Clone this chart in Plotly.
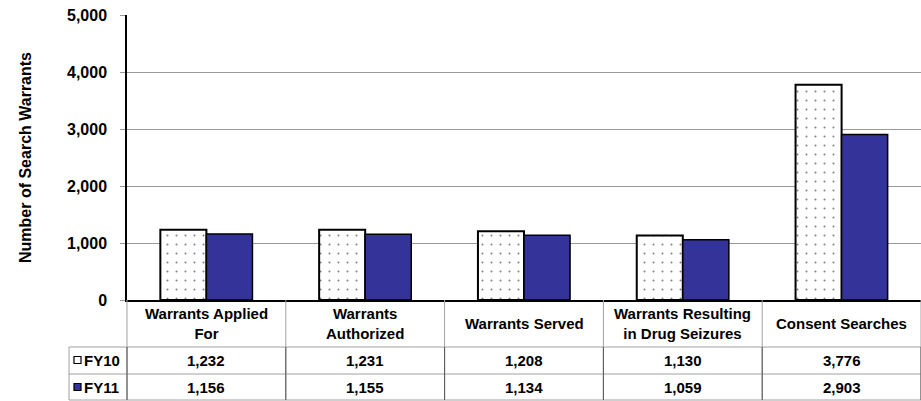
import plotly.graph_objects as go

categories = ["Warrants Applied For", "Warrants Authorized", "Warrants Served",
              "Warrants Resulting in Drug Seizures", "Consent Searches"]
table_labels = ["Warrants Applied<br>For", "Warrants<br>Authorized", "Warrants Served",
                "Warrants Resulting<br>in Drug Seizures", "Consent Searches"]
fy10 = [1232, 1231, 1208, 1130, 3776]
fy11 = [1156, 1155, 1134, 1059, 2903]
y_ticks = [0, 1000, 2000, 3000, 4000, 5000]

W, H = 921, 401
L, R, T, B = 127, 0, 15, 101
pw, ph = W - L - R, H - T - B

def px_x(x):  # pixel -> paper x
    return (x - L) / pw

def px_y(y):  # pixel -> paper y
    return (H - B - y) / ph

blue = "#333399"
font = dict(family="Liberation Sans, Arial", size=15, color="black", weight="bold")

fig = go.Figure()
fig.add_trace(go.Bar(x=categories, y=fy10, name="FY10",
                     marker=dict(color="white", line=dict(color="black", width=2),
                                 pattern=dict(shape=".", fgcolor="black", bgcolor="white",
                                              size=9, solidity=0.04))))
fig.add_trace(go.Bar(x=categories, y=fy11, name="FY11",
                     marker=dict(color=blue, line=dict(color="black", width=1.5))))

shapes = []
ann = []
grey = "#a0a0a0"
# table horizontal lines
for yy in [347, 374, 400]:
    shapes.append(dict(type="line", xref="paper", yref="paper", x0=px_x(69), x1=1,
                       y0=px_y(yy), y1=px_y(yy), line=dict(color=grey, width=1)))
# left column border
shapes.append(dict(type="line", xref="paper", yref="paper", x0=px_x(69), x1=px_x(69),
                   y0=px_y(347), y1=px_y(400), line=dict(color=grey, width=1)))
# category separators
n = len(categories)
for i in range(n + 1):
    xx = i / n
    shapes.append(dict(type="line", xref="paper", yref="paper", x0=xx, x1=xx,
                       y0=0, y1=px_y(400), line=dict(color=grey, width=1)))
    shapes.append(dict(type="line", xref="paper", yref="paper", x0=xx, x1=xx,
                       y0=px_y(347), y1=px_y(400), line=dict(color="#555555", width=1)))

# table text
for i, c in enumerate(categories):
    ann.append(dict(x=c, xref="x", y=px_y(323), yref="paper", text=table_labels[i],
                    showarrow=False, font=font, xanchor="center", yanchor="middle"))
    ann.append(dict(x=c, xref="x", y=px_y(360), yref="paper", text=f"{fy10[i]:,}",
                    showarrow=False, font=font, xanchor="center", yanchor="middle"))
    ann.append(dict(x=c, xref="x", y=px_y(387), yref="paper", text=f"{fy11[i]:,}",
                    showarrow=False, font=font, xanchor="center", yanchor="middle"))

# legend keys in table
for name, yy, col in [("FY10", 360, "white"), ("FY11", 387, blue)]:
    shapes.append(dict(type="rect", xref="paper", yref="paper", x0=px_x(74), x1=px_x(81),
                       y0=px_y(yy + 3.5), y1=px_y(yy - 3.5), fillcolor=col,
                       line=dict(color="black", width=1.2)))
    ann.append(dict(x=px_x(82), xref="paper", y=px_y(yy), yref="paper", text=name,
                    showarrow=False, font=font, xanchor="left", yanchor="middle"))

fig.update_layout(
    width=W, height=H,
    margin=dict(l=L, r=R, t=T, b=B),
    plot_bgcolor="white", paper_bgcolor="white",
    barmode="group", bargap=0.42, bargroupgap=0,
    showlegend=False,
    shapes=shapes, annotations=ann,
    font=dict(family="Liberation Sans, Arial", color="black"),
)
fig.update_xaxes(showticklabels=False, showline=True, linecolor="black", linewidth=1.5,
                 showgrid=False, ticks="")
fig.update_yaxes(range=[0, 5000], tickvals=y_ticks, tickformat=",d",
                 showgrid=True, gridcolor="#999999", gridwidth=1,
                 showline=True, linecolor="black", linewidth=1.5,
                 ticks="outside", ticklen=5, tickcolor="#999999", ticklabelstandoff=10,
                 tickfont=dict(family="Liberation Sans, Arial", size=16, color="black", weight="bold"),
                 title=dict(text="Number of Search Warrants", standoff=31,
                            font=dict(family="Liberation Sans, Arial", size=16, color="black", weight="bold")),
                 zeroline=False)

# page has a default body margin; drop it so the figure sits at the window corner
fig.write_html("out.html", config={"displayModeBar": False},
               post_script="document.body.style.margin='0';")
